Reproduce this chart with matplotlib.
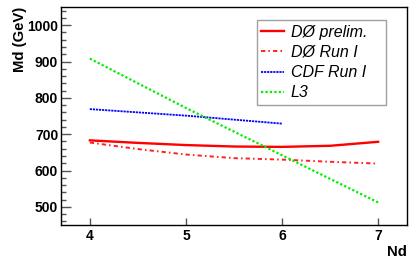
import matplotlib
matplotlib.use("Agg")
import matplotlib.pyplot as plt
from matplotlib.ticker import MultipleLocator

# Data
nd_d0p = [4.0, 4.5, 5.0, 5.5, 6.0, 6.5, 7.0]
md_d0p = [683, 676, 670, 666, 665, 668, 679]

nd_d0r = [4.0, 4.5, 5.0, 5.5, 6.0, 6.5, 7.0]
md_d0r = [677, 659, 644, 634, 630, 624, 619]

nd_cdf = [4.0, 5.0, 6.0]
md_cdf = [769, 751, 729]

nd_l3 = [4.0, 5.0, 6.0, 7.0]
md_l3 = [908, 772, 642, 512]

labels = ["DØ prelim.", "DØ Run I", "CDF Run I", "L3"]
xticks = [4, 5, 6, 7]
yticks = [500, 600, 700, 800, 900, 1000]

plt.rcParams['font.family'] = ['Liberation Sans', 'DejaVu Sans']

fig = plt.figure(figsize=(4.19, 2.63), dpi=100)
ax = fig.add_axes([61/419, 38/263, 346/419, 218/263])

ax.plot(nd_d0p, md_d0p, color='#ff0000', lw=1.7, label=labels[0])
ax.plot(nd_d0r, md_d0r, color='#ff2020', lw=1.4, dashes=(2.2, 1.6, 0.8, 1.6), label=labels[1])
ax.plot(nd_cdf, md_cdf, color='#0000ff', lw=1.3, dashes=(1.2, 0.5), label=labels[2])
ax.plot(nd_l3, md_l3, color='#00ee00', lw=1.6, dashes=(1.0, 1.0), label=labels[3])

ax.set_xlim(3.7, 7.3)
ax.set_ylim(450, 1050)
ax.set_xticks(xticks)
ax.set_yticks(yticks)
ax.yaxis.set_minor_locator(MultipleLocator(20))
ax.tick_params(axis='y', which='major', direction='in', length=7, width=1, color='#555555', pad=2)
ax.tick_params(axis='y', which='minor', direction='in', length=3.5, width=1, color='#555555')
ax.tick_params(axis='x', which='major', direction='in', length=5, width=1, color='#555555', pad=3)
for lab in ax.get_xticklabels() + ax.get_yticklabels():
    lab.set_fontweight('bold')
    lab.set_fontsize(10)

for sp in ax.spines.values():
    sp.set_color('black')
    sp.set_linewidth(1.0)

fig.text(20/419, 1 - 7/263, "Md (GeV)", rotation=90, ha='center', va='top',
         fontsize=10.7, fontweight='bold')
fig.text(407/419, 1 - 256/263, "Nd", ha='right', va='baseline',
         fontsize=10.8, fontweight='bold')

leg = ax.legend(loc='upper left', bbox_to_anchor=(0.566, 0.940, 0.373, 0.0),
                mode='expand', borderaxespad=0, frameon=True, fancybox=False,
                prop={'style': 'italic', 'size': 11.5}, labelspacing=0.33,
                handlelength=1.4, handletextpad=0.45, borderpad=0.28)
leg.get_frame().set_edgecolor('#888888')
leg.get_frame().set_linewidth(1.0)

fig.savefig("out.png", dpi=100)
